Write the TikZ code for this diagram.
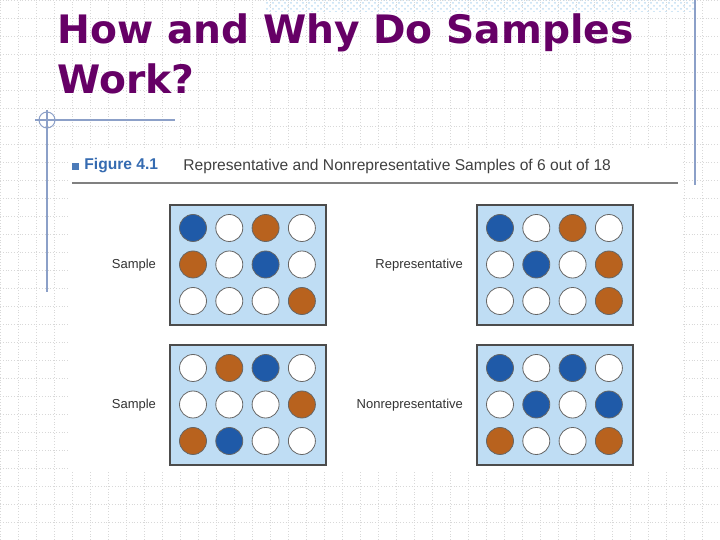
\documentclass[tikz,border=0pt]{standalone}
\usepackage{fontspec}
\setmainfont{Liberation Sans}
\newfontfamily\titlefont{DejaVu Sans}
\usetikzlibrary{patterns}
\definecolor{cb}{HTML}{1F5AA8}
\definecolor{co}{HTML}{B8621E}
\definecolor{cbox}{HTML}{BFDDF4}
\definecolor{ttl}{HTML}{660066}
\definecolor{gridc}{HTML}{D8D8D8}
\definecolor{rule}{HTML}{8CA0C8}
\tikzset{
 dot/.style={circle,draw=black!60,line width=0.4pt,minimum size=13.5pt,inner sep=0pt},
 B/.style={dot,fill=cb}, O/.style={dot,fill=co}, W/.style={dot,fill=white},
 panel/.style={draw=black!70,fill=cbox,line width=0.6pt},
 lab/.style={anchor=east,font=\fontsize{6.5pt}{7pt}\selectfont,text=black!80}
}
\begin{document}
\begin{tikzpicture}[x=0.5pt,y=-0.5pt]
\useasboundingbox (0,0) rectangle (720,540);
\fill[white] (0,0) rectangle (720,540);
\draw[gridc,densely dotted,line width=0.4pt,step=9pt] (0,0) grid (720,540);
\fill[pattern=crosshatch dots,pattern color=cbox] (265,0) rectangle (695,12);
\fill[white] (68,148) rectangle (682,472);
\draw[rule,line width=0.6pt] (695,0) -- (695,185);
\draw[rule,line width=0.6pt] (47,110) -- (47,292);
\draw[rule,line width=0.6pt] (35,120) -- (175,120);
\node[circle,draw=rule,minimum size=8pt,inner sep=0pt,line width=0.5pt] (c0) at (47,120) {};
\node[anchor=north west,align=left,text=ttl,font=\titlefont\bfseries\fontsize{19.6pt}{25pt}\selectfont,inner sep=0pt] (title) at (57,13) {How and Why Do Samples\\Work?};
\node[fill=cb!80,minimum size=3.5pt,inner sep=0pt] (sq) at (76,167) {};
\node[anchor=west,text=cb!90,font=\bfseries\fontsize{7.8pt}{8pt}\selectfont,inner sep=0pt] (fig) at (84,166) {Figure 4.1};
\node[anchor=west,text=black!75,font=\fontsize{7.8pt}{8pt}\selectfont,inner sep=0pt] (cap) at (183,166) {Representative and Nonrepresentative Samples of 6 out of 18};
\draw[black!50,line width=0.8pt] (72,183) -- (678,183);
\foreach \px/\py/\pat [count=\k] in {
 170/205/{B,W,O,W,O,W,B,W,W,W,W,O},
 477/205/{B,W,O,W,W,B,W,O,W,W,W,O},
 170/345/{W,O,B,W,W,W,W,O,O,B,W,W},
 477/345/{B,W,B,W,W,B,W,B,O,W,W,O}}{
 \draw[panel] (\px,\py) rectangle ++(156,120);
 \foreach \c [count=\i from 0] in \pat {
  \pgfmathtruncatemacro\col{mod(\i,4)}
  \pgfmathtruncatemacro\row{div(\i,4)}
  \node[\c] (d\k-\i) at ({\px+23+36.3*\col},{\py+23+36.5*\row}) {};
 }
}
\node[lab] (l1) at (163,265) {Sample};
\node[lab] (l2) at (470,265) {Representative};
\node[lab] (l3) at (163,405) {Sample};
\node[lab] (l4) at (470,405) {Nonrepresentative};
\end{tikzpicture}
\end{document}
